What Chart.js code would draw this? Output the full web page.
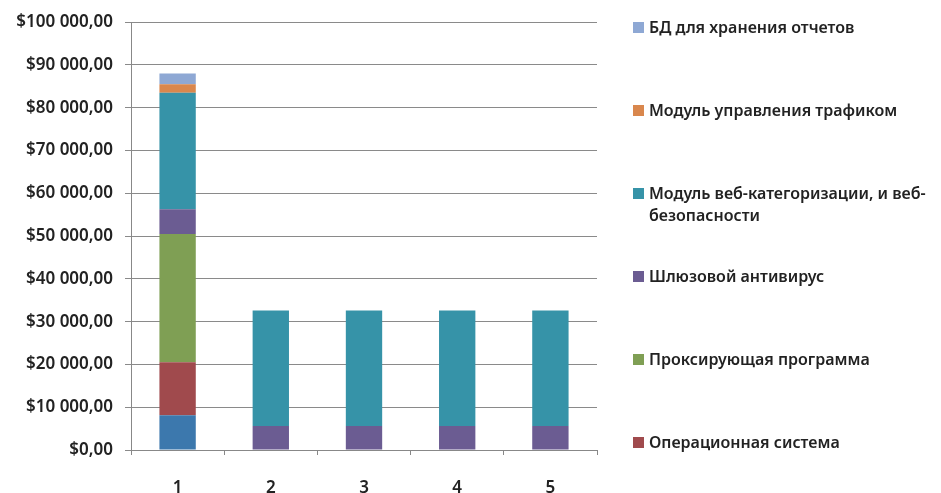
<!DOCTYPE html>
<html>
<head>
<meta charset="utf-8">
<script src="https://cdn.jsdelivr.net/npm/chart.js@4/dist/chart.umd.min.js"></script>
<style>
    body { margin: 0; background: #fff; }
    #wrap { position: relative; width: 941px; height: 493px; }
    #legend { position: absolute; left: 633px; top: 0; width: 305px; }
    .item { position: absolute; left: 0; display: flex; align-items: flex-start;
            font-family: "Noto Sans", sans-serif; font-size: 16px; font-weight: 600; color: #222; line-height: 22px; }
    .box { width: 11px; height: 11px; margin-top: 6px; margin-right: 5px; flex: none; }
    .txt { width: 292px; }
</style>
</head>
<body>
<div id="wrap">
    <canvas id="costChart" width="941" height="493"></canvas>
    <div id="legend"></div>
</div>
<script>
const categories = ['1', '2', '3', '4', '5'];

// stacked segments, bottom to top
const seriesNames = [
    'Аппаратная платформа',
    'Операционная система',
    'Проксирующая программа',
    'Шлюзовой антивирус',
    'Модуль веб-категоризации, и веб-безопасности',
    'Модуль управления трафиком',
    'БД для хранения отчетов'
];
const hardware   = [8100, 0, 0, 0, 0];
const osCost     = [12400, 0, 0, 0, 0];
const proxy      = [30000, 0, 0, 0, 0];
const antivirus  = [5800, 5600, 5600, 5600, 5600];
const webModule  = [27200, 27000, 27000, 27000, 27000];
const traffic    = [2000, 0, 0, 0, 0];
const reportDb   = [2500, 0, 0, 0, 0];
const yTicks     = [0, 10000, 20000, 30000, 40000, 50000, 60000, 70000, 80000, 90000, 100000];

const colors = ['#3c78ad', '#a04a4d', '#7f9f54', '#6b5c92', '#3693a8', '#d9874d', '#8ea8d4'];
const seriesValues = [hardware, osCost, proxy, antivirus, webModule, traffic, reportDb];

function money(v) {
    return '$' + v.toLocaleString('ru-RU').replace(/\s/g, ' ') + ',00';
}

const tickFont = { family: 'Noto Sans', size: 17, weight: '600' };

const ctx = document.getElementById('costChart').getContext('2d');
const costChart = new Chart(ctx, {
    type: 'bar',
    data: {
        labels: categories,
        datasets: seriesNames.map((name, i) => ({
            label: name,
            data: seriesValues[i],
            backgroundColor: colors[i],
            borderWidth: 0,
            categoryPercentage: 1,
            barPercentage: 0.39
        }))
    },
    options: {
        responsive: false,
        animation: false,
        layout: { padding: { top: 20, right: 344, bottom: 0, left: 0 } },
        plugins: { legend: { display: false }, tooltip: { enabled: false } },
        scales: {
            x: {
                stacked: true,
                afterFit: s => { s.height = 43; },
                grid: { drawOnChartArea: false, tickLength: 5, color: '#888' },
                border: { color: '#888' },
                ticks: { color: '#222', padding: 23, font: tickFont }
            },
            y: {
                stacked: true,
                min: yTicks[0],
                max: yTicks[yTicks.length - 1],
                afterBuildTicks: s => { s.ticks = yTicks.map(v => ({ value: v })); },
                afterFit: s => { s.width = 131; },
                grid: { color: '#8a8a8a', tickLength: 6 },
                border: { color: '#888' },
                ticks: {
                    color: '#222', padding: 12,
                    font: tickFont,
                    callback: v => money(v)
                }
            }
        }
    }
});

// legend on the right, reversed order, first series is cut off in the original
const legendTops = [16, 99, 182, 265, 348, 431];
const legend = document.getElementById('legend');
costChart.data.datasets.slice(1).reverse().forEach((ds, i) => {
    const item = document.createElement('div');
    item.className = 'item';
    item.style.top = legendTops[i] + 'px';
    item.innerHTML = '<div class="box" style="background:' + ds.backgroundColor + '"></div><div class="txt">' + ds.label + '</div>';
    legend.appendChild(item);
});
</script>
</body>
</html>
